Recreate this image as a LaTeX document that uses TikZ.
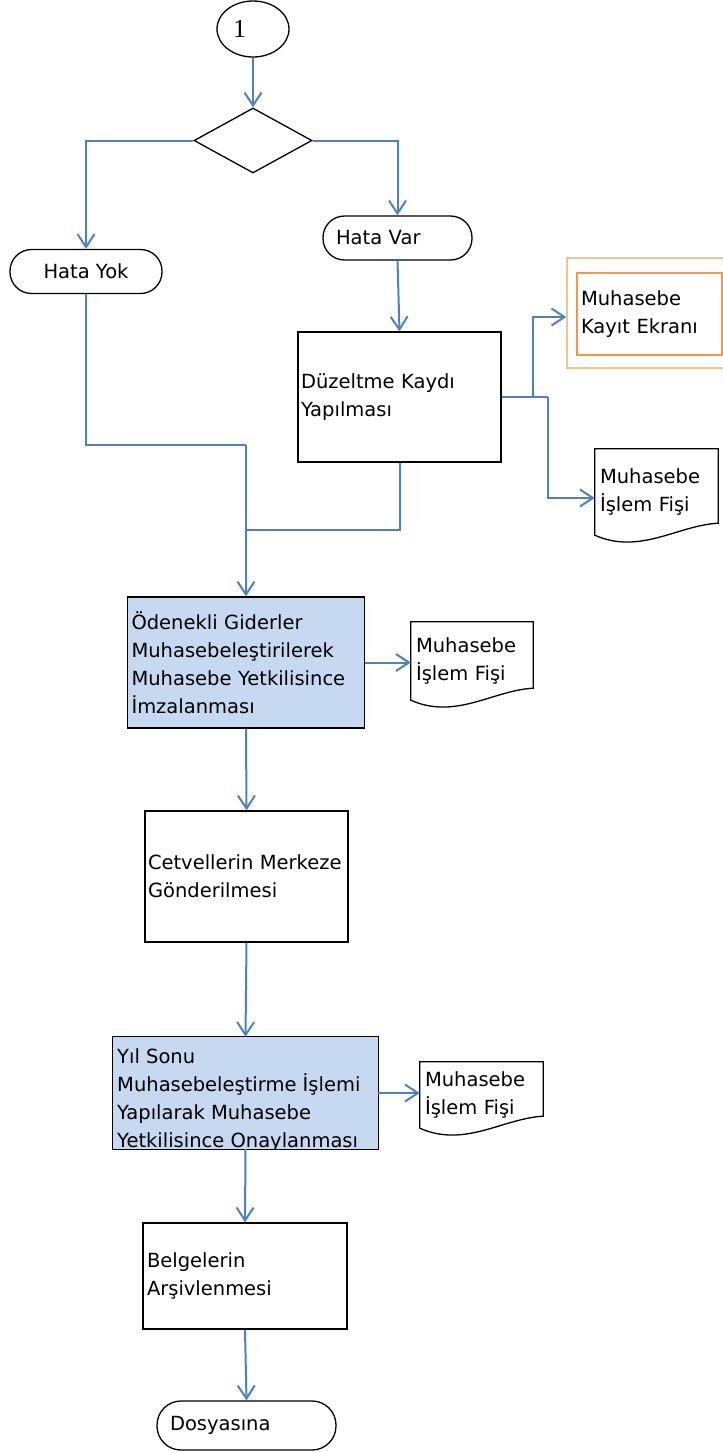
\documentclass[tikz,border=0pt]{standalone}
\usepackage{fontspec}
\setmainfont{DejaVu Sans}
\newfontfamily\numfont{Liberation Serif}
\usetikzlibrary{arrows.meta,shapes.geometric}

\definecolor{flowblue}{RGB}{79,129,189}
\definecolor{procblue}{RGB}{198,217,241}
\definecolor{frameorange}{RGB}{250,192,144}
\definecolor{boxorange}{RGB}{247,150,70}

\tikzset{
  txt/.style={font=\fontsize{19.5}{28}\selectfont},
  flow/.style={draw=flowblue,line width=2pt,-{Straight Barb[length=13pt,width=17pt]}},
  flowline/.style={draw=flowblue,line width=2pt},
  proc/.style={txt,draw,line width=1.3pt,rectangle,align=left,inner xsep=4pt},
  term/.style={txt,draw,line width=1.3pt,rectangle,rounded corners=21.5pt,minimum height=44pt},
  docu/.style={txt,align=left,inner xsep=5pt},
  docline/.style={draw,line width=1.3pt}
}
% document shape with wavy bottom
\newcommand\docoutline[1]{%
  \draw[docline] (#1.south west) -- (#1.north west) -- (#1.north east) -- ([yshift=12pt]#1.south east)
    .. controls ([xshift=-40pt,yshift=10pt]#1.south east) and ([xshift=45pt,yshift=-20pt]#1.south west) .. (#1.south west) -- cycle;}

\begin{document}
\begin{tikzpicture}[x=1pt,y=-1pt]
\clip (0,0) rectangle (723,1452);

\node[draw,ellipse,line width=1.3pt,minimum width=72pt,minimum height=56pt,inner sep=2pt,text width=40pt,align=left,font=\numfont\fontsize{26}{28}\selectfont] (one) at (253,29) {1};
\node[draw,diamond,line width=1.3pt,minimum width=118pt,minimum height=65pt,inner sep=0pt] (dia) at (253,140.5) {};

\node[term,minimum width=152pt] (yok) at (86,271.5) {Hata Yok};
\node[term,text width=123pt,inner xsep=13pt,align=left] (var) at (397.5,238) {Hata Var};

\node[proc,minimum height=130pt,text width=197pt,inner xsep=3pt] (duz) at (399.5,397) {Düzeltme Kaydı\\Yapılması};

\node[draw=frameorange,line width=1.3pt,minimum width=170pt,minimum height=110pt] (kfrm) at (652,313) {};
\node[txt,draw=boxorange,line width=1.3pt,minimum height=82pt,text width=137pt,inner xsep=4pt,align=left] (kayit) at (649.5,314) {Muhasebe\\Kayıt Ekranı};

\node[docu,minimum height=86pt,text width=113pt] (fis1) at (656.5,492) {Muhasebe\\İşlem Fişi};
\docoutline{fis1}

\node[proc,fill=procblue,minimum height=131pt,text width=229pt] (oden) at (246,662.5) {Ödenekli Giderler\\Muhasebeleştirilerek\\Muhasebe Yetkilisince\\İmzalanması};
\node[docu,minimum height=78pt,text width=112pt] (fis2) at (472,661) {Muhasebe\\İşlem Fişi};
\docoutline{fis2}

\node[proc,minimum height=131pt,text width=197pt,inner xsep=3pt] (cet) at (246.5,876.5) {Cetvellerin Merkeze\\Gönderilmesi};

\node[fill=procblue,minimum width=265pt,minimum height=112pt] (yil) at (245.5,1093) {};
\begin{scope}
\clip (yil.north west) rectangle (yil.south east);
\node[txt,anchor=north west,inner sep=0pt,align=left] (yiltxt) at (117,1048) {Yıl Sonu\\Muhasebeleştirme İşlemi\\Yapılarak Muhasebe\\Yetkilisince Onaylanması};
\end{scope}
\draw[line width=1.3pt] (yil.north west) rectangle (yil.south east);
\node[docu,minimum height=66pt,text width=113pt] (fis3) at (481.5,1095) {Muhasebe\\İşlem Fişi};
\docoutline{fis3}

\node[proc,minimum height=106pt,text width=196pt] (belge) at (245,1276) {Belgelerin\\Arşivlenmesi};
\node[term,text width=153pt,inner xsep=13pt,align=left,minimum height=49pt,rounded corners=24pt] (dos) at (246.5,1425.5) {Dosyasına};

\coordinate (br1) at (533,397);
\coordinate (br2) at (548,397);
\coordinate (mrgA) at (246,445);
\coordinate (mrgB) at (246,530);

\draw[flow] (one.south) -- (dia.north);
\draw[flow] (dia.west) -| (yok.north);
\draw[flow] (dia.east) -| (var.north);
\draw[flow] (var.south) -- (duz.north);
\draw[flowline] (duz.east) -- (br2);
\draw[flow] (br1) |- ([yshift=-4pt]kfrm.west);
\draw[flow] (br2) |- ([yshift=-6pt]fis1.west);
\draw[flowline] (yok.south) |- (mrgA);
\draw[flowline] (duz.south) |- (mrgB);
\draw[flow] (mrgA) -- (oden.north);
\draw[flow] (oden.east) -- (oden.east -| fis2.west);
\draw[flow] (oden.south) -- (cet.north);
\draw[flow] (cet.south) -- (yil.north);
\draw[flow] (yil.east) -- (yil.east -| fis3.west);
\draw[flow] (yil.south) -- (belge.north);
\draw[flow] (belge.south) -- (dos.north);
\end{tikzpicture}
\end{document}
